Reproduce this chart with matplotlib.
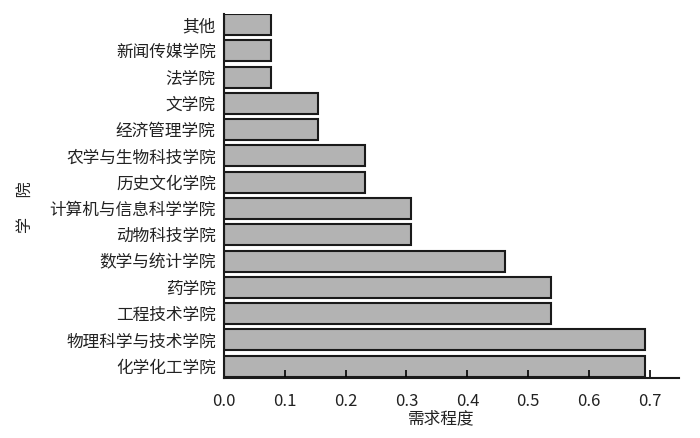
import matplotlib
matplotlib.use('Agg')
from matplotlib import pyplot as plt

plt.rcParams['font.family'] = ['Noto Sans CJK SC', 'DejaVu Sans']

# colleges, bottom to top
colleges = ['化学化工学院', '物理科学与技术学院', '工程技术学院', '药学院',
            '数学与统计学院', '动物科技学院', '计算机与信息科学学院', '历史文化学院',
            '农学与生物科技学院', '经济管理学院', '文学院', '法学院',
            '新闻传媒学院', '其他']
demand = [0.692, 0.692, 0.538, 0.538, 0.462, 0.308, 0.308, 0.231,
          0.231, 0.154, 0.154, 0.077, 0.077, 0.077]
xticks = [0.0, 0.1, 0.2, 0.3, 0.4, 0.5, 0.6, 0.7]

fig = plt.figure(figsize=(7.0, 4.38), dpi=100)
ax = fig.add_axes([0.32, 0.137, 0.65, 0.831])

ax.barh(range(len(colleges)), demand, height=0.8, color='#b3b3b3',
        edgecolor='#1a1a1a', linewidth=1.5)

ax.set_xlim(0, 0.748)
ax.set_ylim(-0.45, 13.4)
ax.set_yticks(range(len(colleges)))
ax.set_yticklabels(colleges, fontsize=12, color='#222222')
ax.set_xticks(xticks)
ax.set_xticklabels([f'{v:.1f}' for v in xticks], fontsize=12, color='#222222')

ax.tick_params(axis='y', length=0, pad=6)
ax.tick_params(axis='x', direction='in', length=6, width=1.2, pad=11)

for side in ['top', 'right']:
    ax.spines[side].set_visible(False)
for side in ['left', 'bottom']:
    ax.spines[side].set_linewidth(1.5)
    ax.spines[side].set_color('#1a1a1a')

ax.set_xlabel('需求程度', fontsize=12, color='#222222')
ax.xaxis.set_label_coords(0.477, -0.088)
ax.set_ylabel('学\u3000 院', fontsize=11.5, color='#222222')
ax.yaxis.set_label_coords(-0.418, 0.47)

fig.savefig('out.png', dpi=100)
